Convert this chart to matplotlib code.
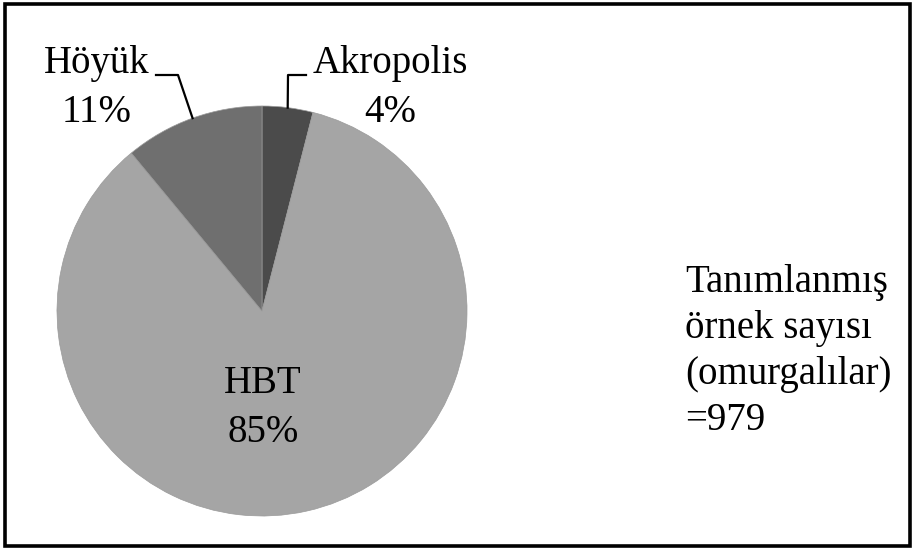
import numpy as np
import matplotlib.pyplot as plt
from matplotlib.patches import Rectangle

labels = ['Akropolis', 'HBT', 'Höyük']
shares = [4, 85, 11]
colors = ['#4b4b4b', '#a5a5a5', '#6f6f6f']
note = ['Tanımlanmış', 'örnek sayısı', '(omurgalılar)', '=979']

W, H = 914, 550
fig = plt.figure(figsize=(W / 100, H / 100), dpi=100)
ax = fig.add_axes([0, 0, 1, 1])

cx, cy, r = 262, H - 311, 205
wedges, _ = ax.pie(shares, colors=colors, startangle=90, counterclock=False,
                   center=(cx, cy), radius=r, frame=True,
                   wedgeprops=dict(edgecolor='#9a9a9a', linewidth=0.5))
ax.set_xlim(0, W)
ax.set_ylim(0, H)
ax.set_aspect('equal')
ax.axis('off')

font = dict(family='Liberation Serif', fontsize=28, color='black')

# label positions (x centre, baselines from top)
pos = {'Akropolis': (390, 73, 122), 'HBT': (263, 393, 442), 'Höyük': (97, 73, 122)}
for w, lab, val in zip(wedges, labels, shares):
    x, y1, y2 = pos[lab]
    ax.text(x, H - y1, lab, ha='center', va='baseline', **font)
    ax.text(x, H - y2, f'{val}%', ha='center', va='baseline', **font)

# leader lines from wedge edge to labels
def edge(w):
    a = np.deg2rad((w.theta1 + w.theta2) / 2)
    return cx + r * np.cos(a), cy + r * np.sin(a)

ex, ey = edge(wedges[2])
ax.plot([ex, 178, 156], [ey, H - 75, H - 75], color='black', lw=1.6)
ex, ey = edge(wedges[0])
ax.plot([ex, 288, 306], [ey, H - 75, H - 75], color='black', lw=1.6)

for i, line in enumerate(note):
    ax.text(685, H - (292 + 46 * i), line, ha='left', va='baseline', **font)

fig.add_artist(Rectangle((5 / W, 4 / H), 905 / W, 542 / H, transform=fig.transFigure,
                         fill=False, edgecolor='black', linewidth=2.6))

fig.savefig('out.png', dpi=100)
